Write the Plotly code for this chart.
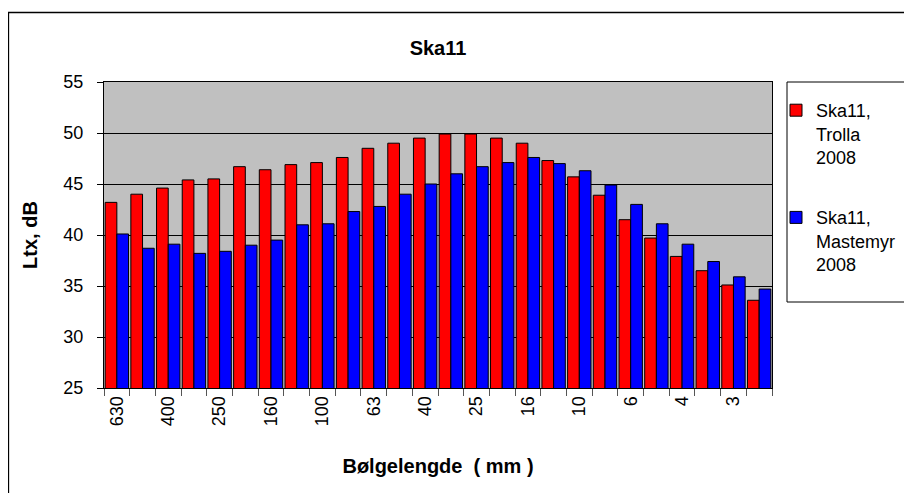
import plotly.graph_objects as go

# Data
bands = ["630", "500", "400", "315", "250", "200", "160", "125", "100", "80", "63", "50", "40",
         "31.5", "25", "20", "16", "12.5", "10", "8", "6.3", "5", "4", "3.15", "2.5", "2"]
tick_labels = ["630", "", "400", "", "250", "", "160", "", "100", "", "63", "", "40",
               "", "25", "", "16", "", "10", "", "6", "", "4", "", "3", ""]
trolla = [43.2, 44.0, 44.6, 45.4, 45.5, 46.7, 46.4, 46.9, 47.1, 47.6, 48.5, 49.0, 49.5,
          49.9, 49.9, 49.5, 49.0, 47.3, 45.7, 43.9, 41.5, 39.7, 37.9, 36.5, 35.1, 33.6]
mastemyr = [40.1, 38.7, 39.1, 38.2, 38.4, 39.0, 39.5, 41.0, 41.1, 42.3, 42.8, 44.0, 45.0,
            46.0, 46.7, 47.1, 47.6, 47.0, 46.3, 44.9, 43.0, 41.1, 39.1, 37.4, 35.9, 34.7]
series_names = ["Ska11,<br>Trolla<br>2008", "Ska11,<br>Mastemyr<br>2008"]

FONT = "Liberation Sans, Arial, sans-serif"
OFF = 8  # default page body margin
W, H = 912 - OFF, 493 - OFF
# plot area in page pixels: x 104..772, y 82..388
L, T = 104 - OFF, 82 - OFF
R = W - (772 - OFF)
B = H - (388 - OFF)
pw, ph = W - L - R, H - T - B


def px_x(p):
    return (p - OFF - L) / pw


def px_y(p):
    return (H - B - (p - OFF)) / ph


pos = list(range(len(bands)))
shown = [i for i, t in enumerate(tick_labels) if t]

fig = go.Figure()
fig.add_trace(go.Bar(x=pos, y=trolla, name=series_names[0], legendgroup="a",
                     marker=dict(color="#FF0000", line=dict(color="black", width=1)),
                     customdata=bands))
fig.add_trace(go.Bar(x=pos, y=mastemyr, name=series_names[1], legendgroup="b",
                     marker=dict(color="#0000FF", line=dict(color="black", width=1)),
                     customdata=bands))

fig.update_layout(
    width=W, height=H,
    margin=dict(l=L, r=R, t=T, b=B, autoexpand=False),
    paper_bgcolor="white",
    plot_bgcolor="#C0C0C0",
    barmode="group", bargap=0.09, bargroupgap=0,
    font=dict(family=FONT, size=18, color="black"),
    title=dict(text="<b>Ska11</b>", x=0.5, xref="paper", xanchor="center",
               y=1 - (48 - OFF) / H, yanchor="middle", font=dict(size=20)),
    showlegend=True,
    legend=dict(x=px_x(776), y=px_y(92), xanchor="left", yanchor="top",
                bgcolor="rgba(0,0,0,0)", borderwidth=0, tracegroupgap=34,
                itemwidth=30, valign="top", font=dict(size=18),
                traceorder="grouped"),
    shapes=[
        dict(type="rect", xref="paper", yref="paper",
             x0=px_x(8.5), x1=px_x(930), y0=px_y(12.5), y1=px_y(520),
             line=dict(color="black", width=1.3), layer="below"),
        dict(type="rect", xref="paper", yref="paper",
             x0=px_x(787), x1=px_x(930), y0=px_y(82), y1=px_y(302),
             line=dict(color="black", width=1), layer="below"),
    ],
)

fig.update_xaxes(
    range=[-0.5, len(bands) - 0.5], automargin=False,
    tickmode="array", tickvals=shown, ticktext=[tick_labels[i] for i in shown],
    tickangle=-90, ticks="", tickfont=dict(size=18),
    showgrid=False, zeroline=False,
    showline=True, linecolor="black", linewidth=1, mirror=True,
    minor=dict(tickmode="array", tickvals=[i - 0.5 for i in range(len(bands) + 1)],
               ticks="outside", ticklen=7, tickcolor="#555555", tickwidth=1, showgrid=False),
    title=dict(text="<b>Bølgelengde  ( mm )</b>", font=dict(size=20), standoff=33),
)
fig.update_yaxes(
    range=[25, 55], tickmode="linear", tick0=25, dtick=5, automargin=False,
    ticks="outside", ticklen=6, tickcolor="black", tickfont=dict(size=18),
    ticklabelstandoff=10,
    showgrid=True, gridcolor="black", gridwidth=1,
    zeroline=False,
    showline=True, linecolor="black", linewidth=1, mirror=True,
    title=dict(text="<b>Ltx, dB</b>", font=dict(size=20), standoff=20),
)

fig.write_html("out.html")
